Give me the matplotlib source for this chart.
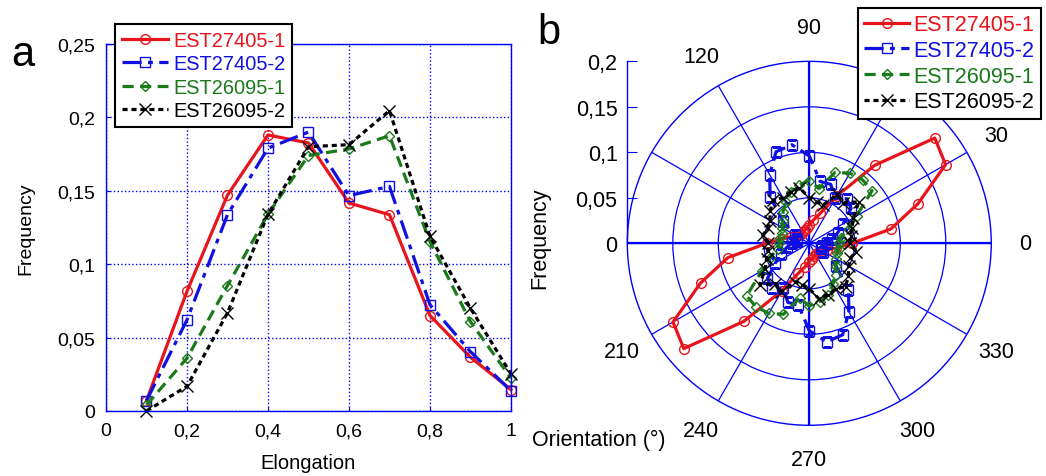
import numpy as np
import matplotlib
matplotlib.use("Agg")
import matplotlib.pyplot as plt

plt.rcParams['font.family'] = ['Liberation Sans', 'DejaVu Sans']

# ---- data: panel a (elongation) ----
elong = [0.1, 0.2, 0.3, 0.4, 0.5, 0.6, 0.7, 0.8, 0.9, 1.0]
el_27405_1 = [0.007, 0.0815, 0.147, 0.188, 0.1826, 0.1417, 0.1337, 0.065, 0.0366, 0.0145]
el_27405_2 = [0.007, 0.062, 0.1337, 0.179, 0.19, 0.1467, 0.153, 0.0724, 0.0404, 0.0138]
el_26095_1 = [0.004, 0.036, 0.0854, 0.134, 0.174, 0.1785, 0.1875, 0.1153, 0.0608, 0.0223]
el_26095_2 = [0.0, 0.0168, 0.0668, 0.134, 0.18, 0.1814, 0.2046, 0.119, 0.07, 0.0252]

# ---- data: panel b (orientation, degrees 0..350 step 10) ----
orient = [0, 10, 20, 30, 40, 50, 60, 70, 80, 90, 100, 110, 120, 130, 140, 150, 160, 170,
          180, 190, 200, 210, 220, 230, 240, 250, 260, 270, 280, 290, 300, 310, 320, 330, 340, 350]
or_27405_1 = [0.047, 0.091, 0.127, 0.173, 0.180, 0.112, 0.060, 0.035, 0.026, 0.020, 0.017, 0.015,
              0.014, 0.014, 0.015, 0.017, 0.021, 0.030,
              0.047, 0.091, 0.127, 0.173, 0.180, 0.112, 0.060, 0.035, 0.026, 0.020, 0.017, 0.015,
              0.014, 0.014, 0.015, 0.017, 0.021, 0.030]
or_27405_2 = [0.019, 0.025, 0.033, 0.043, 0.060, 0.064, 0.057, 0.069, 0.069, 0.096, 0.110, 0.107,
              0.087, 0.067, 0.038, 0.018, 0.014, 0.014,
              0.019, 0.025, 0.033, 0.043, 0.060, 0.064, 0.057, 0.069, 0.069, 0.096, 0.110, 0.107,
              0.087, 0.067, 0.038, 0.018, 0.014, 0.014]
or_26095_1 = [0.033, 0.035, 0.046, 0.060, 0.090, 0.091, 0.089, 0.083, 0.061, 0.069, 0.065, 0.060,
              0.052, 0.045, 0.038, 0.034, 0.032, 0.033,
              0.033, 0.035, 0.046, 0.060, 0.090, 0.091, 0.089, 0.083, 0.061, 0.069, 0.065, 0.060,
              0.052, 0.045, 0.038, 0.034, 0.032, 0.033]
or_26095_2 = [0.045, 0.046, 0.050, 0.056, 0.071, 0.058, 0.062, 0.045, 0.046, 0.050, 0.062, 0.060,
              0.058, 0.062, 0.056, 0.050, 0.048, 0.052,
              0.045, 0.046, 0.050, 0.056, 0.071, 0.058, 0.062, 0.045, 0.046, 0.050, 0.062, 0.060,
              0.058, 0.062, 0.056, 0.050, 0.048, 0.052]

labels = ['EST27405-1', 'EST27405-2', 'EST26095-1', 'EST26095-2']
colors = ['#e8141c', '#1010e0', '#1a7a1a', 'black']
styles = ['-', (0, (6, 2, 1.5, 2)), (0, (3.5, 2)), (0, (1.6, 1.2))]
markers = ['o', 's', 'D', 'x']
msizes = [7, 7.5, 5.5, 8]

grid_blue = '#0000ff'

fig = plt.figure(figsize=(10.46, 4.77), dpi=100)

# ---------------- panel a ----------------
ax1 = fig.add_axes([0.1013, 0.1363, 0.3872, 0.7694])
series_a = [el_27405_1, el_27405_2, el_26095_1, el_26095_2]
for vals, lab, c, ls, m, ms in zip(series_a, labels, colors, styles, markers, msizes):
    ax1.plot(elong, vals, color=c, linestyle=ls, lw=2.3, marker=m, ms=ms,
             mfc='none', mec=c, mew=1.0, label=lab, clip_on=False)
ax1.set_xlim(0, 1)
ax1.set_ylim(0, 0.25)
ax1.set_xticks([0, 0.2, 0.4, 0.6, 0.8, 1.0])
ax1.set_xticklabels(['0', '0,2', '0,4', '0,6', '0,8', '1'])
ax1.set_yticks([0, 0.05, 0.1, 0.15, 0.2, 0.25])
ax1.set_yticklabels(['0', '0,05', '0,1', '0,15', '0,2', '0,25'])
ax1.grid(True, color=grid_blue, linestyle=':', lw=1)
for sp in ax1.spines.values():
    sp.set_color(grid_blue)
    sp.set_linewidth(1)
ax1.tick_params(direction='in', length=3, color=grid_blue, labelsize=14, pad=8)
ax1.set_xlabel('Elongation', fontsize=14.5, labelpad=10)
ax1.set_ylabel('Frequency', fontsize=14, labelpad=16)
leg1 = ax1.legend(loc='upper left', bbox_to_anchor=(0.110, 0.948), bbox_transform=fig.transFigure,
                  fontsize=14.4, numpoints=1, handlelength=2.3, handletextpad=0.25,
                  labelspacing=0.22, borderpad=0.35, borderaxespad=0, fancybox=False,
                  framealpha=1, edgecolor='black')
leg1.get_frame().set_linewidth(1.5)
for t, c in zip(leg1.get_texts(), colors):
    t.set_color(c)
fig.text(0.022, 0.885, 'a', fontsize=30, va='center', ha='center')

# ---------------- panel b ----------------
rect = [0.5997, 0.1063, 0.348, 0.763]
ax2 = fig.add_axes(rect, projection='polar')
theta = np.deg2rad(orient + [orient[0]])
series_b = [or_27405_1, or_27405_2, or_26095_1, or_26095_2]
for vals, lab, c, ls, m, ms in zip(series_b, labels, colors, styles, markers, msizes):
    ax2.plot(theta, vals + [vals[0]], color=c, linestyle=ls, lw=2.3, marker=m, ms=ms,
             mfc='none', mec=c, mew=1.0, label=lab)
ax2.set_ylim(0, 0.2)
ax2.set_rgrids([0.05, 0.1, 0.15], labels=['', '', ''])
ax2.set_thetagrids(range(0, 360, 30),
                   labels=['0', '30', '', '90', '120', '', '', '210', '240', '270', '300', '330'])
ax2.grid(True, color=grid_blue, linestyle='-', lw=0.9)
ax2.spines['polar'].set_color(grid_blue)
ax2.spines['polar'].set_linewidth(1)
ax2.vlines(np.deg2rad([0, 90, 180, 270]), 0, 0.2, color=grid_blue, lw=1.6, zorder=1.5)
ax2.tick_params(axis='x', labelsize=15.5, pad=14)
leg2 = ax2.legend(loc='upper left', bbox_to_anchor=(0.820, 0.982), bbox_transform=fig.transFigure,
                  fontsize=15.5, numpoints=1, handlelength=2.1, handletextpad=0.2,
                  labelspacing=0.22, borderpad=0.3, borderaxespad=0, fancybox=False,
                  framealpha=1, edgecolor='black')
leg2.get_frame().set_linewidth(1.5)
for t, c in zip(leg2.get_texts(), colors):
    t.set_color(c)

# radial frequency axis drawn on the left
rax = fig.add_axes(rect)
rax.patch.set_visible(False)
rax.set_xlim(-0.2, 0.2)
rax.set_ylim(-0.2, 0.2)
for k in ['top', 'right', 'bottom']:
    rax.spines[k].set_visible(False)
rax.spines['left'].set_bounds(0, 0.2)
rax.spines['left'].set_color(grid_blue)
rax.spines['left'].set_linewidth(1)
rax.set_xticks([])
rax.set_yticks([0, 0.05, 0.1, 0.15, 0.2])
rax.set_yticklabels(['0', '0,05', '0,1', '0,15', '0,2'])
rax.tick_params(axis='y', direction='in', length=7, color=grid_blue, labelsize=15.5, pad=7)

fig.text(0.516, 0.50, 'Frequency', rotation=90, fontsize=15.5, va='center', ha='center')
fig.text(0.509, 0.076, 'Orientation (°)', fontsize=15.5, va='center', ha='left')
fig.text(0.525, 0.93, 'b', fontsize=30, va='center', ha='center')

fig.savefig('out.png', dpi=100)
